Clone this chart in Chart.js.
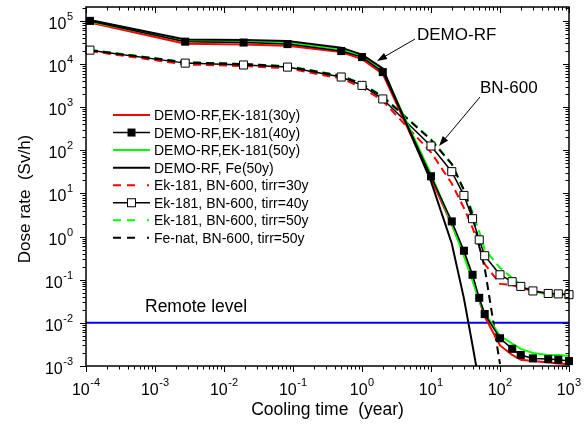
<!DOCTYPE html>
<html>
<head>
<meta charset="utf-8">
<script src="https://cdn.jsdelivr.net/npm/chart.js@4.4.1/dist/chart.umd.min.js"></script>
<style>
  html, body { margin: 0; padding: 0; background: #fff; }
  #wrap { width: 584px; height: 425px; }
</style>
</head>
<body>
<div id="wrap"><canvas id="doseChart" width="584" height="425"></canvas></div>
<script>
// cooling time in years (1 h, 1 d, 1 w, 1 mo, 0.5 y, 1 y, 2 y, then years)
const coolingTime = [1.14e-4, 2.74e-3, 1.92e-2, 8.33e-2, 0.5, 1, 2, 10, 20, 30, 40, 50, 60, 100, 150, 200, 300, 500, 700, 1000];

// DEMO-RF blanket, dose rate Sv/h
const demoEk30 = [9.2e4, 2.95e4, 2.85e4, 2.65e4, 1.9e4, 1.3e4, 5.9e3, 22, 1.9, 0.4, 0.1, 0.033, 0.014, 0.003, 0.0018, 0.0014, 0.0013, 0.0012, 0.00115, 0.0011];
const demoEk40 = [1.0e5, 3.3e4, 3.15e4, 2.9e4, 2.0e4, 1.45e4, 6.5e3, 25, 2.25, 0.47, 0.13, 0.038, 0.016, 0.0044, 0.0025, 0.0018, 0.0015, 0.00145, 0.0014, 0.0013];
const demoEk50 = [9.7e4, 3.4e4, 3.3e4, 3.1e4, 2.2e4, 1.5e4, 7.0e3, 28, 2.0, 0.35, 0.095, 0.033, 0.017, 0.005, 0.0033, 0.0025, 0.002, 0.0018, 0.0018, 0.0017];
const demoFe50 = [1.05e5, 3.7e4, 3.6e4, 3.4e4, 2.4e4, 1.65e4, 7.9e3, 19, 0.69, 0.037, 0.003, 0.0004];

// BN-600 reflector
const bnEk30 = [2.0e4, 9.8e3, 9.0e3, 8.0e3, 4.6e3, 2.9e3, 1.4e3, 90, 17, 4.6, 1.6, 0.6, 0.23, 0.08, 0.075, 0.065, 0.055, 0.048, 0.046, 0.045];
const bnEk40 = [2.1e4, 1.05e4, 9.5e3, 8.5e3, 5.0e3, 3.2e3, 1.55e3, 126, 32, 9, 2.6, 0.84, 0.36, 0.13, 0.09, 0.07, 0.055, 0.048, 0.047, 0.045];
const bnEk50 = [2.15e4, 1.1e4, 1.0e4, 9.0e3, 5.4e3, 3.5e3, 1.8e3, 180, 49, 12, 3.7, 1.3, 0.5, 0.19, 0.11, 0.075, 0.055, 0.045, 0.04, 0.037];
const bnFe50 = [2.1e4, 1.1e4, 1.0e4, 8.8e3, 5.3e3, 3.4e3, 1.75e3, 175, 48, 12, 3.2, 0.6, 0.19, 0.0011];

const remoteLevel = 0.01;

const seriesLabels = [
  'DEMO-RF,EK-181(30y)',
  'DEMO-RF,EK-181(40y)',
  'DEMO-RF,EK-181(50y)',
  'DEMO-RF, Fe(50y)',
  'Ek-181, BN-600, tirr=30y',
  'Ek-181, BN-600, tirr=40y',
  'Ek-181, BN-600, tirr=50y',
  'Fe-nat, BN-600, tirr=50y'
];

const xDecades = [-4, -3, -2, -1, 0, 1, 2, 3];
const yDecades = [-3, -2, -1, 0, 1, 2, 3, 4, 5];

const FONT = '"Liberation Sans", Arial, Helvetica, sans-serif';

function pts(values) {
  return values.map((v, i) => ({ x: coolingTime[i], y: v }));
}

function line(label, values, color, opts) {
  return Object.assign({
    label: label,
    data: pts(values),
    borderColor: color,
    backgroundColor: color,
    borderWidth: 2,
    pointRadius: 0,
    fill: false,
    tension: 0,
    clip: { left: 6, right: 6, top: 0, bottom: 0 }
  }, opts || {});
}

const dash = [8, 5];

const datasets = [
  line(seriesLabels[0], demoEk30, '#ff0000', { order: 4 }),
  line(seriesLabels[1], demoEk40, '#000000', { order: 2, borderWidth: 1.5, pointStyle: 'rect', pointRadius: 5.7, pointBackgroundColor: '#000', pointBorderWidth: 0 }),
  line(seriesLabels[2], demoEk50, '#00ff00', { order: 3 }),
  line(seriesLabels[3], demoFe50, '#000000', { order: 1 }),
  line(seriesLabels[4], bnEk30, '#ff0000', { order: 8, borderDash: dash }),
  line(seriesLabels[5], bnEk40, '#000000', { order: 5, borderWidth: 1.5, pointStyle: 'rect', pointRadius: 5.7, pointBackgroundColor: '#fff', pointBorderColor: '#000', pointBorderWidth: 1 }),
  line(seriesLabels[6], bnEk50, '#00ff00', { order: 7, borderDash: dash }),
  line(seriesLabels[7], bnFe50, '#000000', { order: 6, borderDash: dash }),
  line('Remote level', [], '#0000ff', { order: 9, data: [{ x: 1e-4, y: remoteLevel }, { x: 1e3, y: remoteLevel }] })
];

function drawPow(ctx, x, y, exp, align) {
  const base = '10';
  const sup = String(exp);
  ctx.font = '16px ' + FONT;
  const wb = ctx.measureText(base).width;
  ctx.font = '11px ' + FONT;
  const ws = ctx.measureText(sup).width;
  const left = align === 'right' ? x - wb - ws - 0.5 : x - (wb + ws + 0.5) / 2;
  ctx.textAlign = 'left';
  ctx.textBaseline = 'alphabetic';
  ctx.font = '16px ' + FONT;
  ctx.fillText(base, left, y);
  ctx.font = '11px ' + FONT;
  ctx.fillText(sup, left + wb + 0.5, y - 9);
}

function arrow(ctx, x1, y1, x2, y2) {
  const a = Math.atan2(y2 - y1, x2 - x1);
  const len = 10, hw = 3.5;
  ctx.beginPath();
  ctx.moveTo(x1, y1);
  ctx.lineTo(x2 - Math.cos(a) * len * 0.8, y2 - Math.sin(a) * len * 0.8);
  ctx.stroke();
  ctx.beginPath();
  ctx.moveTo(x2, y2);
  ctx.lineTo(x2 - Math.cos(a) * len - Math.sin(a) * hw, y2 - Math.sin(a) * len + Math.cos(a) * hw);
  ctx.lineTo(x2 - Math.cos(a) * len + Math.sin(a) * hw, y2 - Math.sin(a) * len - Math.cos(a) * hw);
  ctx.closePath();
  ctx.fill();
}

const decor = {
  id: 'decor',
  afterDraw(chart) {
    const ctx = chart.ctx;
    const a = chart.chartArea;
    const xs = chart.scales.x, ys = chart.scales.y;
    ctx.save();
    ctx.fillStyle = '#000';
    ctx.strokeStyle = '#000';

    // frame
    ctx.lineWidth = 1.5;
    ctx.strokeRect(a.left, a.top, a.right - a.left, a.bottom - a.top);

    // ticks
    ctx.lineWidth = 1;
    ctx.beginPath();
    xDecades.forEach(d => {
      for (let m = 1; m <= 9; m++) {
        const v = m * Math.pow(10, d);
        if (v > xs.max * 1.0001) break;
        const px = Math.round(xs.getPixelForValue(v)) + 0.5;
        const len = m === 1 ? 6 : 3.5;
        ctx.moveTo(px, a.bottom); ctx.lineTo(px, a.bottom + len);
        ctx.moveTo(px, a.top); ctx.lineTo(px, a.top + len);
      }
    });
    yDecades.forEach(d => {
      for (let m = 1; m <= 9; m++) {
        const v = m * Math.pow(10, d);
        if (v > ys.max) break;
        const py = Math.round(ys.getPixelForValue(v)) + 0.5;
        const len = m === 1 ? 6 : 3.5;
        ctx.moveTo(a.left, py); ctx.lineTo(a.left - len, py);
        ctx.moveTo(a.right, py); ctx.lineTo(a.right - len, py);
      }
    });
    ctx.stroke();

    // tick labels
    xDecades.forEach(d => drawPow(ctx, xs.getPixelForValue(Math.pow(10, d)), a.bottom + 29, d, 'center'));
    yDecades.forEach(d => drawPow(ctx, a.left - 13, ys.getPixelForValue(Math.pow(10, d)) + 8, d, 'right'));

    // axis titles
    ctx.font = '17.5px ' + FONT;
    ctx.textAlign = 'center';
    ctx.fillText('Cooling time  (year)', (a.left + a.right) / 2, 415);
    ctx.save();
    ctx.translate(30, 199);
    ctx.rotate(-Math.PI / 2);
    ctx.font = '17px ' + FONT;
    ctx.fillText('Dose rate  (Sv/h)', 0, 0);
    ctx.restore();

    // annotations
    ctx.font = '17px ' + FONT;
    ctx.textAlign = 'left';
    ctx.fillText('DEMO-RF', 417, 40);
    ctx.fillText('BN-600', 480, 93);
    ctx.font = '17.5px ' + FONT;
    ctx.fillText('Remote level', 145, 312);
    ctx.lineWidth = 1;
    arrow(ctx, 415, 39, 377, 61);
    arrow(ctx, 480, 97, 439, 146);

    // legend
    const lx0 = 113, lx1 = 150;
    ctx.font = '14px ' + FONT;
    chart.data.datasets.slice(0, seriesLabels.length).forEach((ds, i) => {
      const cy = 115 + i * 17.55;
      ctx.save();
      ctx.strokeStyle = ds.borderColor;
      ctx.lineWidth = ds.borderWidth;
      ctx.setLineDash(ds.borderDash ? [8, 6, 8, 12, 2, 50] : []);
      ctx.beginPath();
      ctx.moveTo(lx0, cy); ctx.lineTo(lx1, cy);
      ctx.stroke();
      ctx.setLineDash([]);
      if (ds.pointRadius > 0) {
        const s = 8;
        const mx = (lx0 + lx1) / 2;
        ctx.fillStyle = ds.pointBackgroundColor;
        ctx.fillRect(mx - s / 2, cy - s / 2, s, s);
        if (ds.pointBorderWidth) {
          ctx.lineWidth = 1;
          ctx.strokeStyle = '#000';
          ctx.strokeRect(mx - s / 2, cy - s / 2, s, s);
        }
      }
      ctx.restore();
      ctx.fillStyle = '#000';
      ctx.fillText(ds.label, 154, cy + 5);
    });
    ctx.restore();
  }
};

new Chart(document.getElementById('doseChart'), {
  type: 'line',
  data: { datasets: datasets },
  options: {
    responsive: false,
    animation: false,
    devicePixelRatio: 1,
    events: [],
    parsing: true,
    layout: { padding: { left: 86, right: 15, top: 7, bottom: 59 } },
    scales: {
      x: { type: 'logarithmic', min: 1e-4, max: 1e3, display: false },
      y: { type: 'logarithmic', min: 1e-3, max: 2.1e5, display: false }
    },
    plugins: { legend: { display: false }, tooltip: { enabled: false } }
  },
  plugins: [decor]
});
</script>
</body>
</html>
